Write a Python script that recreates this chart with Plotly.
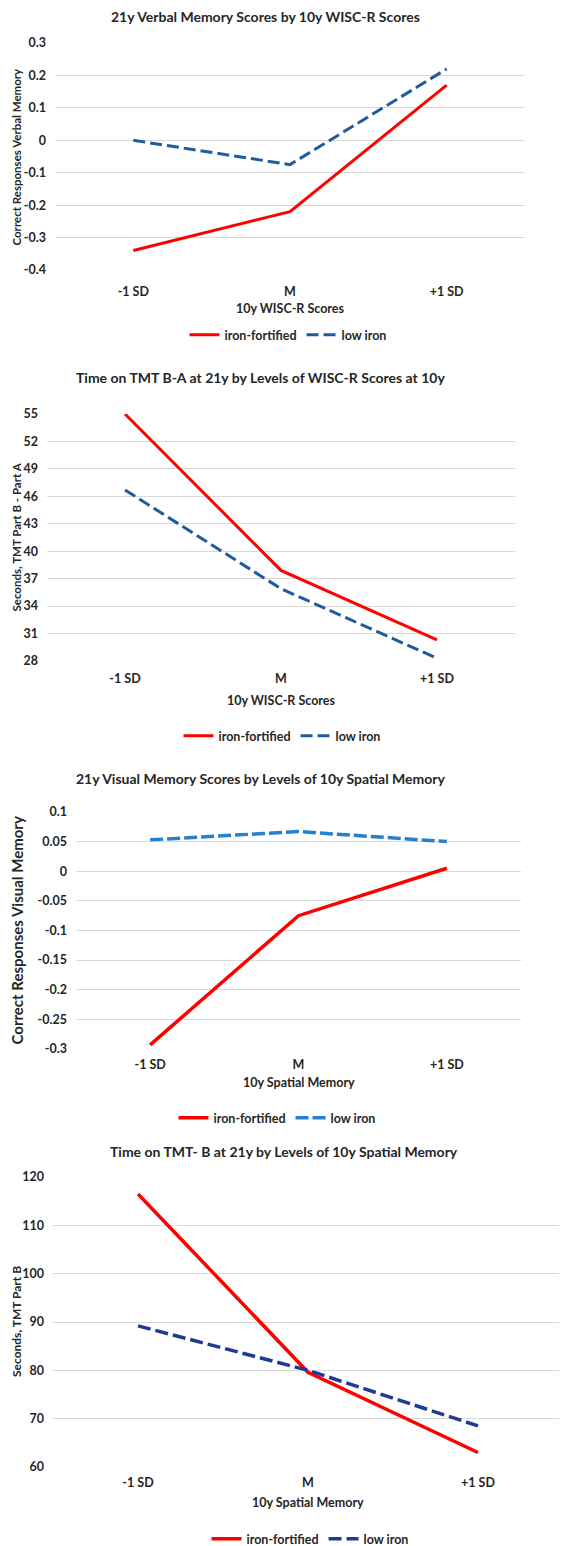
import plotly.graph_objects as go

W, H = 567, 1546
OFF = 8  # page body margin in the browser

categories = ["-1 SD", "M", "+1 SD"]
series_names = ["iron-fortified", "low iron"]

# Panel 1
p1_title = "21y Verbal Memory Scores by 10y WISC-R Scores"
p1_ytitle = "Correct Responses Verbal Memory"
p1_xtitle = "10y WISC-R Scores"
p1_iron = [-0.34, -0.22, 0.17]
p1_low = [0.0, -0.075, 0.22]
p1_ticks = [-0.4, -0.3, -0.2, -0.1, 0, 0.1, 0.2, 0.3]
p1_ticklabels = ["-0.4", "-0.3", "-0.2", "-0.1", "0", "0.1", "0.2", "0.3"]

# Panel 2
p2_title = "Time on TMT B-A at 21y by Levels of WISC-R Scores at 10y"
p2_ytitle = "Seconds, TMT Part B - Part A"
p2_xtitle = "10y WISC-R Scores"
p2_iron = [55.0, 37.9, 30.3]
p2_low = [46.7, 35.9, 28.3]
p2_ticks = [28, 31, 34, 37, 40, 43, 46, 49, 52, 55]
p2_ticklabels = ["28", "31", "34", "37", "40", "43", "46", "49", "52", "55"]

# Panel 3
p3_title = "21y Visual Memory Scores by Levels of 10y Spatial Memory"
p3_ytitle = "Correct Responses Visual Memory"
p3_xtitle = "10y Spatial Memory"
p3_iron = [-0.293, -0.075, 0.005]
p3_low = [0.053, 0.067, 0.05]
p3_ticks = [-0.3, -0.25, -0.2, -0.15, -0.1, -0.05, 0, 0.05, 0.1]
p3_ticklabels = ["-0.3", "-0.25", "-0.2", "-0.15", "-0.1", "-0.05", "0", "0.05", "0.1"]

# Panel 4
p4_title = "Time on TMT- B at 21y by Levels of 10y Spatial Memory"
p4_ytitle = "Seconds, TMT Part B"
p4_xtitle = "10y Spatial Memory"
p4_iron = [116.5, 79.6, 63.0]
p4_low = [89.2, 80.0, 68.5]
p4_ticks = [60, 70, 80, 90, 100, 110, 120]
p4_ticklabels = ["60", "70", "80", "90", "100", "110", "120"]

FONT = "Lato"
TXT = "#262626"
RED = "#FF0000"

panels = [
    dict(title=p1_title, ytitle=p1_ytitle, xtitle=p1_xtitle, iron=p1_iron, low=p1_low,
         ticks=p1_ticks, labels=p1_ticklabels, yr=[-0.4, 0.3],
         px=(55, 525), py=(43, 270), blue="#1F5C9E", dash="12px,5px", lw=3,
         title_y=17, title_x=265, ytitle_x=16, ytitle_size=11.5, xtitle_y=308, legend_y=335, legend_x=288,
         xstand=12),
    dict(title=p2_title, ytitle=p2_ytitle, xtitle=p2_xtitle, iron=p2_iron, low=p2_low,
         ticks=p2_ticks, labels=p2_ticklabels, yr=[28, 55],
         px=(47, 515), py=(414, 661), blue="#1F5C9E", dash="12px,5px", lw=3,
         title_y=378, title_x=260, ytitle_x=16, ytitle_size=11.5, xtitle_y=700, legend_y=736, legend_x=282,
         xstand=8),
    dict(title=p3_title, ytitle=p3_ytitle, xtitle=p3_xtitle, iron=p3_iron, low=p3_low,
         ticks=p3_ticks, labels=p3_ticklabels, yr=[-0.3, 0.1],
         px=(76, 521), py=(812, 1049), blue="#2680D0", dash="13px,4px", lw=3.5,
         title_y=778, title_x=260, ytitle_x=17, ytitle_size=15, xtitle_y=1082, legend_y=1118, legend_x=277,
         xstand=6),
    dict(title=p4_title, ytitle=p4_ytitle, xtitle=p4_xtitle, iron=p4_iron, low=p4_low,
         ticks=p4_ticks, labels=p4_ticklabels, yr=[60, 120],
         px=(53, 563), py=(1177, 1467), blue="#1C3A96", dash="13px,5px", lw=3.5,
         title_y=1151, title_x=284, ytitle_x=16, ytitle_size=12, xtitle_y=1502, legend_y=1539, legend_x=310,
         xstand=6),
]

fig = go.Figure()
layout = dict(width=W, height=H, margin=dict(l=0, r=0, t=0, b=0, autoexpand=False),
              paper_bgcolor="white", plot_bgcolor="white",
              font=dict(family=FONT, color=TXT), annotations=[])

def fx(p):
    return (p - OFF) / W

def fy(p):
    return 1 - (p - OFF) / H

for i, p in enumerate(panels):
    n = "" if i == 0 else str(i + 1)
    xa, ya = "x" + n, "y" + n
    lg = "legend" + n
    fig.add_trace(go.Scatter(x=categories, y=p["iron"], mode="lines", name=series_names[0],
                             line=dict(color=RED, width=p["lw"]), xaxis=xa, yaxis=ya, legend=lg))
    fig.add_trace(go.Scatter(x=categories, y=p["low"], mode="lines", name=series_names[1],
                             line=dict(color=p["blue"], width=p["lw"], dash=p["dash"]),
                             xaxis=xa, yaxis=ya, legend=lg))
    layout["xaxis" + n] = dict(domain=[fx(p["px"][0]), min(1.0, fx(p["px"][1]))], anchor=ya,
                               type="category", range=[-0.5, 2.5], showgrid=False, zeroline=False,
                               showline=False, ticks="", ticklabelstandoff=p["xstand"],
                               tickfont=dict(family=FONT, size=12.5, color=TXT, weight="bold"))
    layout["yaxis" + n] = dict(domain=[fy(p["py"][1]), fy(p["py"][0])], anchor=xa,
                               range=p["yr"], tickvals=p["ticks"], ticktext=p["labels"],
                               showgrid=True, gridcolor="#D9D9D9", gridwidth=1, zeroline=False,
                               showline=False, ticks="", ticklabelstandoff=8,
                               tickfont=dict(family=FONT, size=12.5, color=TXT, weight="bold"))
    layout[lg] = dict(orientation="h", x=fx(p["legend_x"]), xanchor="center",
                      y=fy(p["legend_y"]), yanchor="middle", bgcolor="rgba(0,0,0,0)",
                      font=dict(family=FONT, size=12.5, color=TXT, weight="bold"),
                      itemwidth=30, tracegroupgap=0)
    layout["annotations"] += [
        dict(text=p["title"], x=fx(p["title_x"]), y=fy(p["title_y"]), xref="paper", yref="paper",
             xanchor="center", yanchor="middle", showarrow=False,
             font=dict(family=FONT, size=14, color=TXT, weight="bold")),
        dict(text=p["ytitle"], x=fx(p["ytitle_x"]), y=fy((p["py"][0] + p["py"][1]) / 2),
             xref="paper", yref="paper", xanchor="center", yanchor="middle", textangle=-90,
             showarrow=False, font=dict(family=FONT, size=p["ytitle_size"], color=TXT, weight="bold")),
        dict(text=p["xtitle"], x=fx((p["px"][0] + p["px"][1]) / 2), y=fy(p["xtitle_y"]),
             xref="paper", yref="paper", xanchor="center", yanchor="middle", showarrow=False,
             font=dict(family=FONT, size=12.5, color=TXT, weight="bold")),
    ]

fig.update_layout(**layout)
fig.write_html("out.html")
